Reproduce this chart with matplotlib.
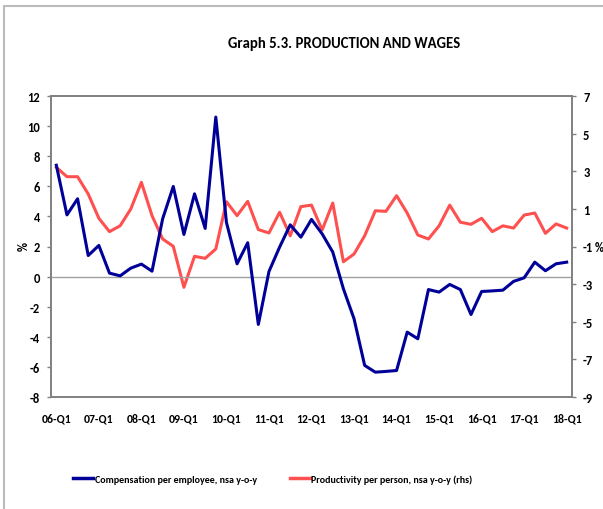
import matplotlib
matplotlib.use("Agg")
import matplotlib.pyplot as plt
from matplotlib.lines import Line2D
from matplotlib.patches import Rectangle

plt.rcParams['axes.unicode_minus'] = False
plt.rcParams['font.family'] = ['Carlito', 'DejaVu Sans']

years = ["06", "07", "08", "09", "10", "11", "12", "13", "14", "15", "16", "17", "18"]
quarters = [f"{y}-Q{q}" for y in years for q in range(1, 5)][:49]
tick_labels = [f"{y}-Q1" for y in years]

compensation = [7.4, 4.1, 5.17, 1.4, 2.07, 0.23, 0.05, 0.56, 0.83, 0.36,
                3.84, 5.99, 2.8, 5.5, 3.2, 10.6, 3.6, 0.85, 2.25, -3.18,
                0.34, 1.96, 3.44, 2.62, 3.8, 2.84, 1.63, -0.81, -2.8, -5.9,
                -6.35, -6.3, -6.24, -3.69, -4.13, -0.86, -1.03, -0.52, -0.86, -2.52,
                -0.99, -0.95, -0.9, -0.32, -0.08, 0.96, 0.39, 0.85, 0.96]
productivity = [3.21, 2.71, 2.71, 1.79, 0.5, -0.21, 0.1, 0.99, 2.41, 0.64,
                -0.6, -0.99, -3.17, -1.52, -1.63, -1.13, 1.38, 0.64, 1.4, -0.1,
                -0.28, 0.82, -0.43, 1.12, 1.2, -0.12, 1.31, -1.81, -1.4, -0.43,
                0.9, 0.87, 1.7, 0.78, -0.39, -0.6, 0.1, 1.2, 0.29, 0.18,
                0.5, -0.21, 0.1, -0.02, 0.67, 0.78, -0.3, 0.2, -0.02]

blue = "#000099"
red = "#FF5050"
spine_c = "#808080"

fig = plt.figure(figsize=(6.03, 5.10), dpi=100)
fig.add_artist(Rectangle((4/603, -0.05), 1.2, 1 - 7/510 + 0.05, transform=fig.transFigure,
                         fill=False, edgecolor="#BBBBBB", linewidth=1.5))

ax = fig.add_axes([51/603, 1 - 398/510, (572 - 51)/603, (398 - 97)/510])
ax2 = ax.twinx()

x = list(range(len(quarters)))
ax.plot(x, compensation, color=blue, linewidth=2.2, zorder=3)
ax2.plot(x, productivity, color=red, linewidth=2.2, zorder=2)
ax.set_zorder(ax2.get_zorder() + 1)
ax.patch.set_visible(False)

ax.axhline(0, color="#A0A0A0", linewidth=1.0, zorder=1)

ax.set_xlim(-0.5, len(quarters) - 0.5)
ax.set_ylim(-8, 12)
ax2.set_ylim(-9, 7)
ax.set_yticks(range(-8, 13, 2))
ax2.set_yticks(range(-9, 8, 2))
ax.set_xticks(range(0, 49, 4))
ax.set_xticklabels(tick_labels)

for a in (ax, ax2):
    for s in a.spines.values():
        s.set_color(spine_c)
        s.set_linewidth(1.2)
    a.tick_params(axis='both', colors=spine_c, labelcolor="black", labelsize=9, length=3, width=1)
    for lab in a.get_yticklabels():
        lab.set_fontweight("bold")
ax.tick_params(axis='x', length=0, pad=11, labelsize=8.5)
for lab in ax.get_xticklabels():
    lab.set_fontweight("bold")
ax.tick_params(axis='y', pad=5)
ax2.tick_params(axis='y', pad=5)

fig.text(24/603, 1 - 246/510, "%", rotation=90, fontsize=9, fontweight="bold", ha="center", va="center")
fig.text(599.5/603, 1 - 248/510, "%", fontsize=9, fontweight="bold", ha="center", va="center")

fig.text(344/603, 1 - 44/510, "Graph 5.3. PRODUCTION AND WAGES", fontsize=10.6, fontweight="bold",
         ha="center", va="center")

handles = [Line2D([], [], color=blue, linewidth=2.5),
           Line2D([], [], color=red, linewidth=2.5)]
fig.legend(handles, ["Compensation per employee, nsa y-o-y",
                     "Productivity per person, nsa y-o-y (rhs)"],
           loc="center", bbox_to_anchor=(273/603, 1 - 480/510), ncol=2, frameon=False,
           handlelength=2.0, handletextpad=0.15, columnspacing=3.3,
           prop={'weight': 'bold', 'size': 7.2})

fig.savefig("out.png", dpi=100)
